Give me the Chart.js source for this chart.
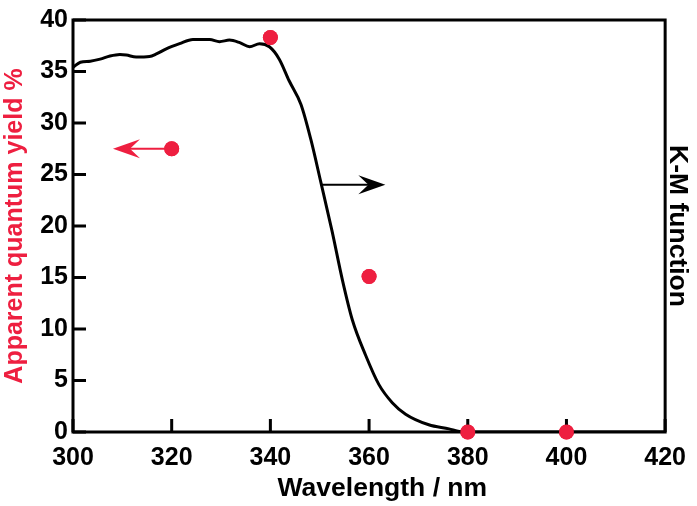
<!DOCTYPE html>
<html>
<head>
<meta charset="utf-8">
<script src="https://cdn.jsdelivr.net/npm/chart.js@4"></script>
<style>
  html, body { margin: 0; padding: 0; background: #fff; }
  #box { width: 697px; height: 506px; }
</style>
</head>
<body>
<div id="box"><canvas id="graph"></canvas></div>
<script>
// K-M function curve (drawn against right axis, same 0-40 range)
const kmWave = [300, 301.5, 303.5, 305.5, 307.5, 309.5, 310.8, 312.8, 315.5, 316.9, 318.9, 321.6, 324.3, 327.7, 329.7, 331.7, 333.8, 335.8, 337.8, 339.8, 341.8, 343.8, 346.2, 348.2, 350.2, 352.5, 354.6, 356.6, 359.3, 362, 364.7, 367.4, 372.1, 376.2, 378.3, 380, 400, 420];
const kmValue = [35.4, 35.9, 36.0, 36.2, 36.5, 36.65, 36.6, 36.4, 36.45, 36.7, 37.2, 37.7, 38.1, 38.1, 37.9, 38.05, 37.8, 37.4, 37.7, 37.4, 36.2, 34.1, 31.8, 28.4, 24.3, 19.5, 14.75, 10.9, 7.45, 4.6, 2.85, 1.73, 0.7, 0.3, 0.05, 0, 0, 0];

// apparent quantum yield points
const aqyWave = [320, 340, 360, 380, 400];
const aqyValue = [27.5, 38.3, 15.1, 0, 0];

const xTicks = [300, 320, 340, 360, 380, 400, 420];
const yTicks = [0, 5, 10, 15, 20, 25, 30, 35, 40];

const red = '#ee1f40';

// arrows in data units: start, tip
const arrowList = [
  { from: [320, 27.5], to: [308.1, 27.5], color: red },
  { from: [350.2, 24.0], to: [363.3, 24.0], color: '#000' }
];

const extras = {
  id: 'extras',
  afterDraw(chart) {
    const ctx = chart.ctx;
    const a = chart.chartArea;
    const sx = chart.scales.x;
    const sy = chart.scales.y;

    // frame
    ctx.save();
    ctx.strokeStyle = '#000';
    ctx.lineWidth = 3;
    ctx.beginPath();
    ctx.rect(a.left, a.top, a.right - a.left, a.bottom - a.top);
    ctx.stroke();
    ctx.restore();

    // inward ticks
    ctx.save();
    ctx.strokeStyle = '#000000';
    ctx.lineWidth = 3;
    ctx.beginPath();
    for (const v of xTicks) {
      const px = sx.getPixelForValue(v);
      ctx.moveTo(px, a.bottom);
      ctx.lineTo(px, a.bottom - 13);
    }
    for (const v of yTicks) {
      const py = sy.getPixelForValue(v);
      ctx.moveTo(a.left, py);
      ctx.lineTo(a.left + 13, py);
    }
    ctx.stroke();
    ctx.restore();

    // red points back on top of the frame
    chart.getDatasetMeta(0).data.forEach(p => p.draw(ctx));

    ctx.save();
    arrowList.forEach(ar => {
      const x0 = sx.getPixelForValue(ar.from[0]);
      const y0 = sy.getPixelForValue(ar.from[1]);
      const x1 = sx.getPixelForValue(ar.to[0]);
      const y1 = sy.getPixelForValue(ar.to[1]);
      const dir = Math.sign(x1 - x0);
      ctx.strokeStyle = ar.color;
      ctx.fillStyle = ar.color;
      ctx.lineWidth = 2;
      ctx.beginPath();
      ctx.moveTo(x0, y0);
      ctx.lineTo(x1 - dir * 12, y1);
      ctx.stroke();
      ctx.beginPath();
      ctx.moveTo(x1, y1);
      ctx.lineTo(x1 - dir * 27, y1 - 9.5);
      ctx.lineTo(x1 - dir * 17, y1);
      ctx.lineTo(x1 - dir * 27, y1 + 9.5);
      ctx.closePath();
      ctx.fill();
    });
    ctx.restore();
  }
};

const fam = '"Liberation Sans", Arial, sans-serif';
const tickFont = { family: fam, size: 25, weight: 'bold' };

new Chart(document.getElementById('graph'), {
  type: 'scatter',
  data: {
    datasets: [
      {
        label: 'AQY',
        data: aqyWave.map((w, i) => ({ x: w, y: aqyValue[i] })),
        yAxisID: 'y',
        showLine: false,
        pointRadius: 7.5,
        pointBackgroundColor: red,
        pointBorderWidth: 0,
        clip: false,
        order: 0
      },
      {
        label: 'K-M',
        data: kmWave.map((w, i) => ({ x: w, y: kmValue[i] })),
        yAxisID: 'y2',
        showLine: true,
        borderColor: '#000',
        borderWidth: 3,
        pointRadius: 0,
        cubicInterpolationMode: 'monotone',
        order: 1
      }
    ]
  },
  options: {
    responsive: true,
    maintainAspectRatio: false,
    animation: false,
    layout: { padding: { top: 12, left: 0, right: 0, bottom: 0 } },
    plugins: { legend: { display: false }, tooltip: { enabled: false } },
    scales: {
      x: {
        type: 'linear', min: 300, max: 420,
        afterBuildTicks(s) { s.ticks = xTicks.map(v => ({ value: v })); },
        afterFit(s) { s.height = 74; },
        grid: { display: false, drawTicks: false },
        border: { display: false },
        ticks: { color: '#000', font: tickFont, padding: 11 },
        title: { display: true, text: '\u2003Wavelength / nm', color: '#000', font: { family: fam, size: 26.5, weight: 'bold' }, padding: { top: 0, bottom: 1 } }
      },
      y: {
        position: 'left', min: 0, max: 40,
        afterBuildTicks(s) { s.ticks = yTicks.map(v => ({ value: v })); },
        afterFit(s) { s.width = 73; },
        grid: { display: false, drawTicks: false },
        border: { display: false },
        ticks: { color: '#000', font: tickFont, padding: 5 },
        title: { display: true, text: 'Apparent quantum yield %', color: red, font: { family: fam, size: 25, weight: 'bold' }, padding: 0 }
      },
      y2: {
        position: 'right', min: 0, max: 40,
        afterFit(s) { s.width = 31; },
        grid: { display: false, drawTicks: false },
        border: { display: false },
        ticks: { display: false },
        title: { display: true, text: 'K-M function', color: '#000', font: { family: fam, size: 26.5, weight: 'bold' }, padding: 3 }
      }
    }
  },
  plugins: [extras]
});
</script>
</body>
</html>
